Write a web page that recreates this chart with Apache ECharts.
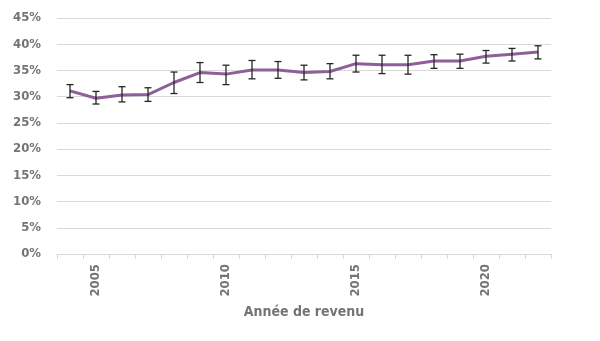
<!DOCTYPE html>
<html>
<head>
<meta charset="utf-8">
<script src="https://cdn.jsdelivr.net/npm/echarts@6/dist/echarts.min.js"></script>
<style>
  html, body { margin: 0; padding: 0; background: #ffffff; }
  #chart { width: 600px; height: 341px; }
</style>
</head>
<body>
<div id="chart"></div>
<script>
// Income years
var years = ['2004','2005','2006','2007','2008','2009','2010','2011','2012','2013','2014','2015','2016','2017','2018','2019','2020','2021','2022'];
// Share (%) per year
var share = [31.1, 29.7, 30.3, 30.4, 32.7, 34.6, 34.3, 35.1, 35.1, 34.6, 34.8, 36.3, 36.1, 36.1, 36.8, 36.8, 37.7, 38.1, 38.5];
// Confidence interval bounds (%)
var lower = [29.8, 28.6, 29.0, 29.1, 30.6, 32.7, 32.3, 33.4, 33.5, 33.2, 33.4, 34.7, 34.4, 34.3, 35.4, 35.4, 36.4, 36.8, 37.2];
var upper = [32.3, 31.0, 31.9, 31.7, 34.7, 36.5, 36.0, 36.9, 36.7, 36.0, 36.3, 37.9, 37.9, 37.9, 38.0, 38.1, 38.8, 39.2, 39.7];
// Axis label values
var yTicks = [0, 5, 10, 15, 20, 25, 30, 35, 40, 45];
var shownYears = ['2005', '2010', '2015', '2020'];

var labelFont = '"DejaVu Sans Condensed", "Liberation Sans Narrow", sans-serif';
var errData = years.map(function (y, i) { return [i, lower[i], upper[i]]; });

var chart = echarts.init(document.getElementById('chart'));
chart.setOption({
  animation: false,
  grid: { left: 57, right: 49, top: 18, bottom: 87 },
  xAxis: {
    type: 'category',
    data: years,
    boundaryGap: true,
    name: 'Année de revenu',
    nameLocation: 'middle',
    nameGap: 51,
    nameTextStyle: { color: '#747474', fontSize: 14, fontWeight: 'bold', fontFamily: labelFont },
    axisLine: { lineStyle: { color: '#d9d9d9', width: 1 } },
    axisTick: { show: true, alignWithLabel: false, interval: 0, length: 5, lineStyle: { color: '#d9d9d9' } },
    axisLabel: {
      rotate: 90,
      interval: function (idx, val) { return shownYears.indexOf(val) >= 0; },
      color: '#747474',
      fontSize: 13,
      fontWeight: 'bold',
      fontFamily: labelFont,
      margin: 10
    },
    splitLine: { show: false }
  },
  yAxis: {
    type: 'value',
    min: yTicks[0],
    max: yTicks[yTicks.length - 1],
    interval: 5,
    axisLine: { show: false },
    axisTick: { show: false },
    axisLabel: {
      formatter: '{value}%',
      color: '#747474',
      fontSize: 13,
      fontWeight: 'bold',
      fontFamily: labelFont,
      margin: 16
    },
    splitLine: { lineStyle: { color: '#d9d9d9', width: 1 } }
  },
  series: [
    {
      type: 'line',
      data: share,
      symbol: 'none',
      lineStyle: { color: '#8e5f98', width: 3 },
      z: 2
    },
    {
      type: 'custom',
      data: errData,
      z: 3,
      renderItem: function (params, api) {
        var x = api.value(0);
        var lo = api.coord([x, api.value(1)]);
        var hi = api.coord([x, api.value(2)]);
        var cap = 3.5;
        var style = { stroke: '#262626', lineWidth: 1.3, fill: null };
        return {
          type: 'group',
          children: [
            { type: 'line', shape: { x1: lo[0], y1: lo[1], x2: hi[0], y2: hi[1] }, style: style },
            { type: 'line', shape: { x1: lo[0] - cap, y1: lo[1], x2: lo[0] + cap, y2: lo[1] }, style: style },
            { type: 'line', shape: { x1: hi[0] - cap, y1: hi[1], x2: hi[0] + cap, y2: hi[1] }, style: style }
          ]
        };
      }
    }
  ]
});
</script>
</body>
</html>
